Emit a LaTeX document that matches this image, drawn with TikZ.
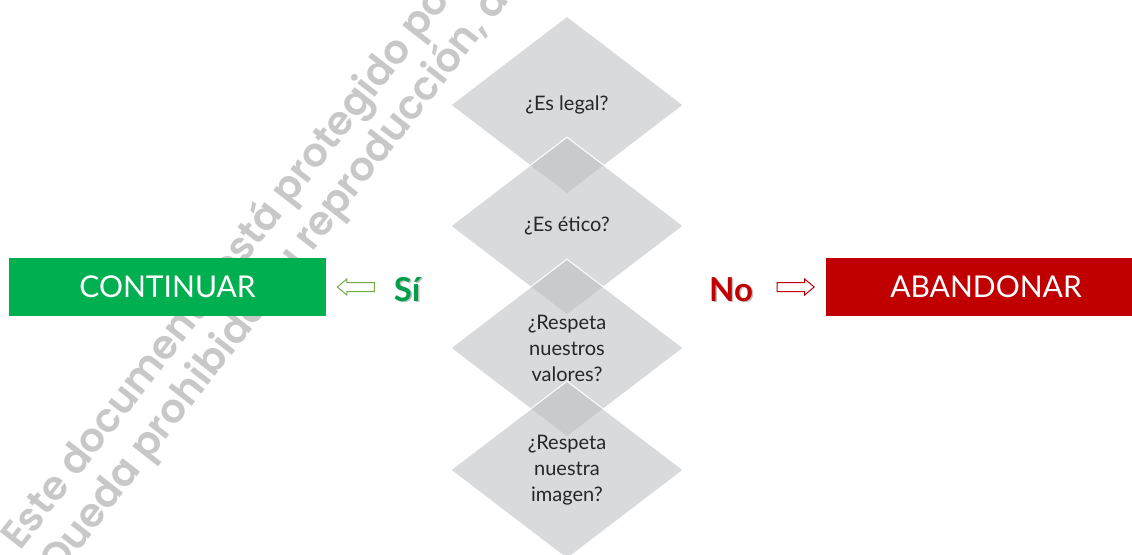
\documentclass[tikz,border=0pt]{standalone}
\usepackage{fontspec}
\setmainfont{Lato}
\newfontfamily\marcafont{Poppins}[UprightFont=* SemiBold]
\usetikzlibrary{shapes.geometric,shapes.arrows}
\definecolor{verdecaja}{HTML}{00B050}
\definecolor{rojocaja}{HTML}{C00000}
\definecolor{verdesi}{HTML}{00A04A}
\definecolor{verdeflecha}{HTML}{70AD47}
\definecolor{gris}{RGB}{186,188,191}
\definecolor{texto}{HTML}{262626}
\definecolor{marcagris}{HTML}{C8C8C8}
\begin{document}
\begin{tikzpicture}[x=1pt,y=-1pt,every node/.style={inner sep=0pt},
	rombo/.style={diamond,fill=gris,fill opacity=.55,draw=white,line width=1pt,minimum width=233pt,minimum height=178pt},
	pregunta/.style={align=center,text=texto,font=\fontsize{20}{26}\selectfont},
	caja/.style={minimum width=317pt,minimum height=58pt,text=white,font=\fontsize{30}{36}\selectfont},
	respuesta/.style={anchor=base,font=\bfseries\fontsize{33}{40}\selectfont},
	flecha/.style={single arrow,fill=white,line width=1pt,minimum height=37pt,inner xsep=0pt,inner ysep=4pt,single arrow head extend=3.5pt,single arrow tip angle=80},
	marca/.style={rotate=52,anchor=base west,text=marcagris,font=\marcafont\fontsize{40}{46}\selectfont}]
		\useasboundingbox (0,0) rectangle (1132,554);
		\clip (0,0) rectangle (1132,554);
		% marca de agua
		\node[marca] (linea1) at (20,552) {Este documento está protegido por};
		\node[marca] (linea2) at (58,578) {Queda prohibida su reproducción, dis};
		\node[caja,fill=verdecaja] (continuar) at (167.5,287) {CONTINUAR};
		\node[caja,fill=rojocaja,minimum width=320pt] (abandonar) at (986,287) {ABANDONAR};
		\node[flecha,draw=verdeflecha,shape border rotate=180] (flechasi) at (358.5,287) {};
		\node[flecha,draw=rojocaja] (flechano) at (793,287) {};
		\node[respuesta,text=black!25] (sombrasi) at (408.5,302.5) {Sí};
		\node[respuesta,text=verdesi] (si) at (407,301) {Sí};
		\node[respuesta,text=black!25] (sombrano) at (732.5,302.5) {No};
		\node[respuesta,text=rojocaja] (no) at (731,301) {No};
		\foreach \n/\y in {legal/105,etico/226,valores/348,imagen/470}{
			\node[rombo] (\n) at (567,\y) {};
			}
		\node[pregunta] (tlegal) at (legal) {¿Es legal?};
		\node[pregunta] (tetico) at (etico) {¿Es ético?};
		\node[pregunta] (tvalores) at (valores) {¿Respeta\\nuestros\\valores?};
		\node[pregunta] (timagen) at (imagen) {¿Respeta\\nuestra\\imagen?};
		\end{tikzpicture}
\end{document}
